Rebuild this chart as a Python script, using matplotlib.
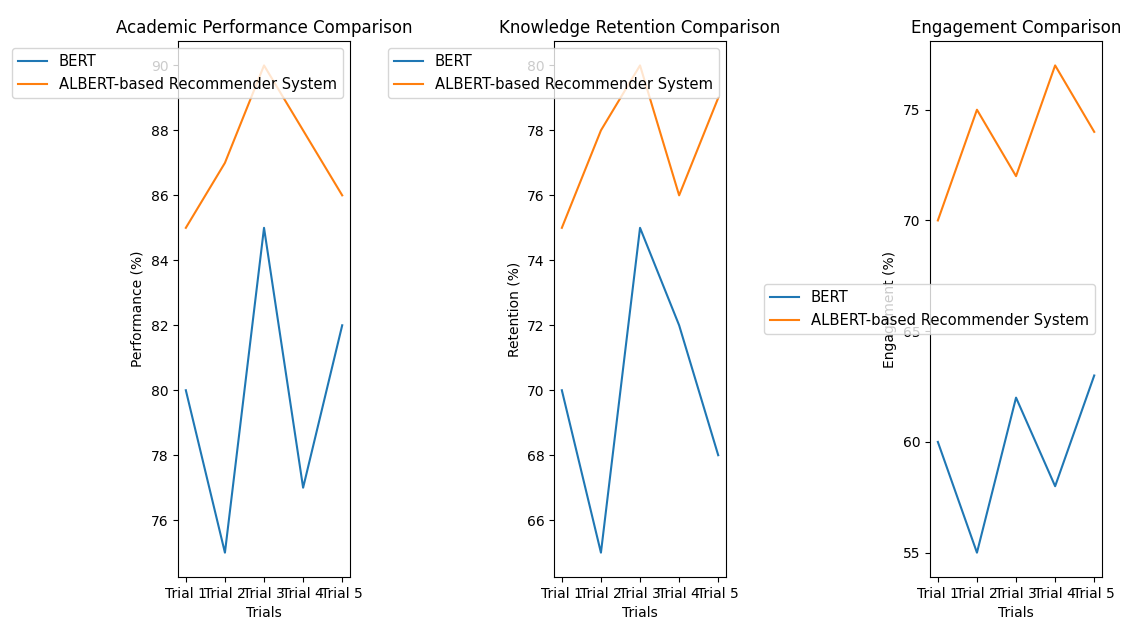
import matplotlib
matplotlib.use("Agg")
import matplotlib.pyplot as plt

trials = ['Trial 1', 'Trial 2', 'Trial 3', 'Trial 4', 'Trial 5']

# academic performance (%)
perf_bert = [80, 75, 85, 77, 82]
perf_albert = [85, 87, 90, 88, 86]

# knowledge retention (%)
ret_bert = [70, 65, 75, 72, 68]
ret_albert = [75, 78, 80, 76, 79]

# engagement (%)
eng_bert = [60, 55, 62, 58, 63]
eng_albert = [70, 75, 72, 77, 74]

fig, axes = plt.subplots(1, 3, figsize=(11.31, 6.22), dpi=100)

panels = [
    (perf_bert, perf_albert, 'Academic Performance Comparison', 'Performance (%)', 'upper right'),
    (ret_bert, ret_albert, 'Knowledge Retention Comparison', 'Retention (%)', 'upper right'),
    (eng_bert, eng_albert, 'Engagement Comparison', 'Engagement (%)', 'center right'),
]

for ax, (b, a, title, ylabel, loc) in zip(axes, panels):
    ax.plot(trials, b, label='BERT')
    ax.plot(trials, a, label='ALBERT-based Recommender System')
    ax.set_title(title)
    ax.set_xlabel('Trials')
    ax.set_ylabel(ylabel)
    ax.legend(loc=loc, fontsize=10.6)

plt.subplots_adjust(left=0.1574, right=0.9744, top=0.934, bottom=0.0723, wspace=1.186)
plt.savefig('out.png', dpi=100)
